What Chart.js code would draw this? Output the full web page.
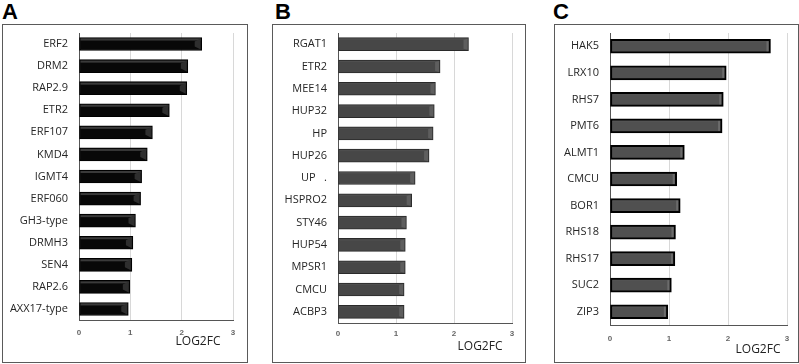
<!DOCTYPE html>
<html lang="en">
<head>
  <meta charset="UTF-8" />
  <title>LOG2FC panels</title>
  <script src="https://cdn.jsdelivr.net/npm/chart.js"></script>
  <style>
    body {
      margin: 0;
      width: 799px;
      height: 364px;
      background: #ffffff;
      position: relative;
      overflow: hidden;
      font-family: 'Liberation Sans', Arial, sans-serif;
    }
    .letter {
      position: absolute;
      font-weight: bold;
      font-size: 22px;
      line-height: 22px;
      color: #000;
    }
    .panel {
      position: absolute;
      border: 1px solid #5a5a5a;
      box-sizing: border-box;
    }
    .panel canvas {
      position: absolute;
      left: 0;
      top: 0;
    }
  </style>
</head>
<body>

  <div class="letter" style="left:2px; top:1px;">A</div>
  <div class="letter" style="left:275px; top:1px;">B</div>
  <div class="letter" style="left:553px; top:1px;">C</div>

  <div class="panel" style="left:2px; top:24px; width:246px; height:339px;">
    <canvas id="chartA"></canvas>
  </div>
  <div class="panel" style="left:272px; top:24px; width:254px; height:339px;">
    <canvas id="chartB"></canvas>
  </div>
  <div class="panel" style="left:554px; top:24px; width:245px; height:339px;">
    <canvas id="chartC"></canvas>
  </div>

  <script>
    // Panel A
    const genesA = ['ERF2', 'DRM2', 'RAP2.9', 'ETR2', 'ERF107', 'KMD4', 'IGMT4', 'ERF060', 'GH3-type', 'DRMH3', 'SEN4', 'RAP2.6', 'AXX17-type'];
    const log2fcA = [2.39, 2.12, 2.10, 1.76, 1.43, 1.33, 1.22, 1.20, 1.10, 1.05, 1.03, 0.99, 0.96];

    // Panel B
    const genesB = ['RGAT1', 'ETR2', 'MEE14', 'HUP32', 'HP', 'HUP26', 'UP   .', 'HSPRO2', 'STY46', 'HUP54', 'MPSR1', 'CMCU', 'ACBP3'];
    const log2fcB = [2.25, 1.76, 1.68, 1.66, 1.64, 1.57, 1.33, 1.27, 1.18, 1.16, 1.16, 1.14, 1.14];

    // Panel C
    const genesC = ['HAK5', 'LRX10', 'RHS7', 'PMT6', 'ALMT1', 'CMCU', 'BOR1', 'RHS18', 'RHS17', 'SUC2', 'ZIP3'];
    const log2fcC = [2.72, 1.97, 1.92, 1.90, 1.26, 1.13, 1.19, 1.11, 1.10, 1.04, 0.98];

    const xTicks = [0, 1, 2, 3];
    const axisTitle = 'LOG2FC';

    // Excel-like bevel: highlight on top edge and on the right end of each bar
    const bevelPlugin = {
      id: 'bevel',
      afterDatasetsDraw(chart, args, opts) {
        const ctx = chart.ctx;
        chart.getDatasetMeta(0).data.forEach(bar => {
          const h = bar.height;
          const top = bar.y - h / 2;
          const x0 = bar.base;
          const x1 = bar.x;
          const inset = opts.inset;
          ctx.save();
          ctx.fillStyle = opts.topColor;
          ctx.fillRect(x0 + inset, top + inset, x1 - x0 - 2 * inset, opts.topSize);
          ctx.fillStyle = opts.endColor;
          ctx.beginPath();
          ctx.moveTo(x1 - inset, top + inset);
          ctx.lineTo(x1 - inset, top + h - inset);
          ctx.lineTo(x1 - opts.endSize, top + h - inset - opts.slant);
          ctx.lineTo(x1 - opts.endSize, top + inset + opts.slant);
          ctx.closePath();
          ctx.fill();
          ctx.restore();
        });
      }
    };

    // axis title drawn where the figure has it (a bit left of the axis end)
    const titlePlugin = {
      id: 'sideTitle',
      afterDraw(chart, args, opts) {
        const ctx = chart.ctx;
        ctx.save();
        ctx.font = '12px "Open Sans"';
        ctx.fillStyle = '#222';
        ctx.textAlign = 'center';
        ctx.textBaseline = 'middle';
        ctx.fillText(opts.text, opts.x, opts.y);
        ctx.restore();
      }
    };

    function makeChart(id, labels, values, cfg) {
      const el = document.getElementById(id);
      el.width = cfg.w;
      el.height = cfg.h;
      return new Chart(el.getContext('2d'), {
        type: 'bar',
        data: {
          labels: labels,
          datasets: [{
            data: values,
            backgroundColor: cfg.fill,
            borderColor: cfg.border,
            borderWidth: cfg.borderWidth,
            borderSkipped: false,
            barThickness: cfg.barThickness
          }]
        },
        plugins: [bevelPlugin, titlePlugin],
        options: {
          indexAxis: 'y',
          responsive: false,
          animation: false,
          layout: { padding: { top: cfg.padTop, right: cfg.padRight, left: 0, bottom: 0 } },
          plugins: {
            legend: { display: false },
            tooltip: { enabled: false },
            bevel: cfg.bevel,
            sideTitle: { text: axisTitle, x: cfg.titleX, y: cfg.titleY }
          },
          scales: {
            x: {
              min: 0,
              max: 3,
              afterBuildTicks: axis => { axis.ticks = xTicks.map(v => ({ value: v })); },
              afterFit: axis => {
                axis.height = cfg.xHeight;
                axis.paddingLeft = 0;
                axis.paddingRight = 0;
              },
              grid: {
                color: ctx => ctx.tick && ctx.tick.value === 0 ? 'rgba(0,0,0,0)' : '#d8d8d8',
                drawTicks: false
              },
              border: { color: '#555', width: 1 },
              ticks: {
                color: '#666',
                padding: cfg.tickPad,
                font: { family: 'Liberation Sans', size: 8, weight: 'bold' }
              }
            },
            y: {
              afterFit: axis => {
                axis.width = cfg.yWidth;
                axis.paddingTop = 0;
                axis.paddingBottom = 0;
              },
              grid: { display: false, drawTicks: false },
              border: { color: '#555', width: 1 },
              ticks: {
                color: '#262626',
                padding: 11,
                font: { family: 'Open Sans', size: 11 }
              }
            }
          }
        }
      });
    }

    makeChart('chartA', genesA, log2fcA, {
      w: 244, h: 337, yWidth: 76, padTop: 8, padRight: 14, xHeight: 42,
      tickPad: 8, barThickness: 13, titleX: 195, titleY: 317,
      fill: '#080808', border: '#000', borderWidth: 1,
      bevel: { topColor: '#3a3a3a', endColor: '#2e2e2e', topSize: 2, endSize: 7, inset: 1, slant: 3 }
    });

    makeChart('chartB', genesB, log2fcB, {
      w: 252, h: 337, yWidth: 65, padTop: 8, padRight: 13, xHeight: 39,
      tickPad: 6, barThickness: 13, titleX: 207, titleY: 322,
      fill: '#474747', border: '#2a2a2a', borderWidth: 1,
      bevel: { topColor: '#505050', endColor: '#5e5e5e', topSize: 1, endSize: 5, inset: 1, slant: 1 }
    });

    makeChart('chartC', genesC, log2fcC, {
      w: 243, h: 337, yWidth: 55, padTop: 8, padRight: 11, xHeight: 37,
      tickPad: 9, barThickness: 14, titleX: 203, titleY: 325,
      fill: '#505050', border: '#000', borderWidth: 2,
      bevel: { topColor: '#555', endColor: '#6c6c6c', topSize: 1, endSize: 4, inset: 2, slant: 0 }
    });
  </script>

</body>
</html>
